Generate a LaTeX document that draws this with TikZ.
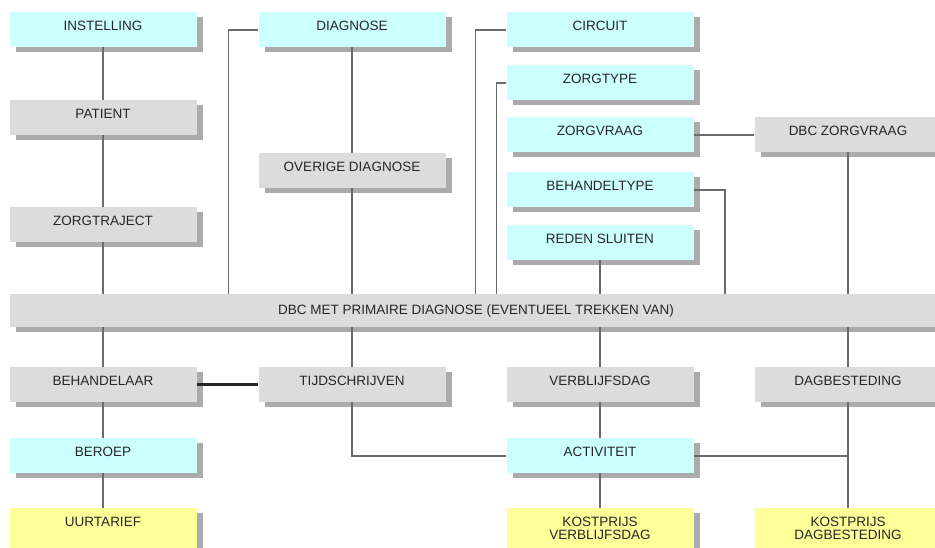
\documentclass[tikz,border=0pt]{standalone}
\usepackage{fontspec}
\setmainfont{Liberation Sans}
\usetikzlibrary{shadows}
\definecolor{boxcyan}{HTML}{CCFFFF}
\definecolor{boxgrey}{HTML}{DCDCDC}
\definecolor{boxyellow}{HTML}{FFFF99}
\definecolor{shadowgrey}{HTML}{ABABAB}
\definecolor{linegrey}{HTML}{6A6A6A}
\definecolor{textgrey}{HTML}{262626}
\tikzset{
  entity/.style={rectangle, anchor=north, inner sep=0pt, minimum width=187pt,
    text height=18pt, text depth=17pt, text=textgrey,
    font=\fontsize{13.5}{13}\selectfont,
    drop shadow={shadow xshift=6pt, shadow yshift=-5pt, fill=shadowgrey, opacity=1}},
  cyanbox/.style={entity, fill=boxcyan},
  greybox/.style={entity, fill=boxgrey},
  yellowbox/.style={entity, fill=boxyellow, text depth=45pt},
  conn/.style={draw=linegrey, line width=1.6pt},
  strong/.style={draw=black!85, line width=2.6pt}
}
\begin{document}
\begin{tikzpicture}[x=1pt, y=-1pt]
\useasboundingbox (0,0) rectangle (935,547);
\fill[white] (0,0) rectangle (935,547);
\clip (0,0) rectangle (935,547);
% column 1
\node[cyanbox] (inst) at (103,12) {INSTELLING};
\node[greybox] (pat) at (103,100) {PATIENT};
\node[greybox] (traj) at (103,207) {ZORGTRAJECT};
% column 2
\node[cyanbox] (diag) at (352,12) {DIAGNOSE};
\node[greybox] (ovd) at (352,153) {OVERIGE DIAGNOSE};
% column 3
\node[cyanbox] (circ) at (600,12) {CIRCUIT};
\node[cyanbox] (ztype) at (600,65) {ZORGTYPE};
\node[cyanbox] (zvraag) at (600,117) {ZORGVRAAG};
\node[cyanbox] (btype) at (600,172) {BEHANDELTYPE};
\node[cyanbox] (reden) at (600,225) {REDEN SLUITEN};
% column 4
\node[greybox] (dbczv) at (848,117) {DBC ZORGVRAAG};
% bar
\node[greybox, minimum width=932pt, text height=20pt, text depth=13pt] (dbc) at (476,294)
  {DBC MET PRIMAIRE DIAGNOSE (EVENTUEEL TREKKEN VAN)};
% lower rows
\node[greybox] (beh) at (103,367) {BEHANDELAAR};
\node[greybox] (tijd) at (352,367) {TIJDSCHRIJVEN};
\node[greybox] (verb) at (600,367) {VERBLIJFSDAG};
\node[greybox] (dagb) at (848,367) {DAGBESTEDING};
\node[cyanbox] (beroep) at (103,438) {BEROEP};
\node[cyanbox] (act) at (600,438) {ACTIVITEIT};
\node[yellowbox] (uur) at (103,508) {UURTARIEF};
\node[yellowbox] (kostv) at (600,508) {\begin{tabular}[t]{@{}c@{}}KOSTPRIJS\\VERBLIJFSDAG\end{tabular}};
\node[yellowbox] (kostd) at (848,508) {\begin{tabular}[t]{@{}c@{}}KOSTPRIJS\\DAGBESTEDING\end{tabular}};
% connectors above bar
\draw[conn] (inst) -- (pat);
\draw[conn] (pat) -- (traj);
\draw[conn] (traj) -- (traj |- dbc.north);
\draw[conn] (diag.west) -- ++(-30,0) coordinate (dk) -- (dk |- dbc.north);
\draw[conn] (diag) -- (ovd);
\draw[conn] (ovd) -- (ovd |- dbc.north);
\draw[conn] (circ.west) -- ++(-31,0) coordinate (ck) -- (ck |- dbc.north);
\draw[conn] (ztype.west) -- ++(-10,0) coordinate (zk) -- (zk |- dbc.north);
\draw[conn] (zvraag) -- (dbczv);
\draw[conn] (btype.east) -- ++(31,0) coordinate (bk) -- (bk |- dbc.north);
\draw[conn] (reden) -- (reden |- dbc.north);
\draw[conn] (dbczv) -- (dbczv |- dbc.north);
% connectors below bar
\draw[conn] (beh |- dbc.south) -- (beh);
\draw[conn] (tijd |- dbc.south) -- (tijd);
\draw[conn] (verb |- dbc.south) -- (verb);
\draw[conn] (dagb |- dbc.south) -- (dagb);
\draw[strong] (beh) -- (tijd);
\draw[conn] (beh) -- (beroep);
\draw[conn] (beroep) -- (uur);
\draw[conn] (tijd.south) |- (act.west);
\draw[conn] (verb) -- (act);
\draw[conn] (act) -- (kostv);
\draw[conn] (act.east) -- (act.east -| dagb);
\draw[conn] (dagb) -- (kostd);
\end{tikzpicture}
\end{document}
